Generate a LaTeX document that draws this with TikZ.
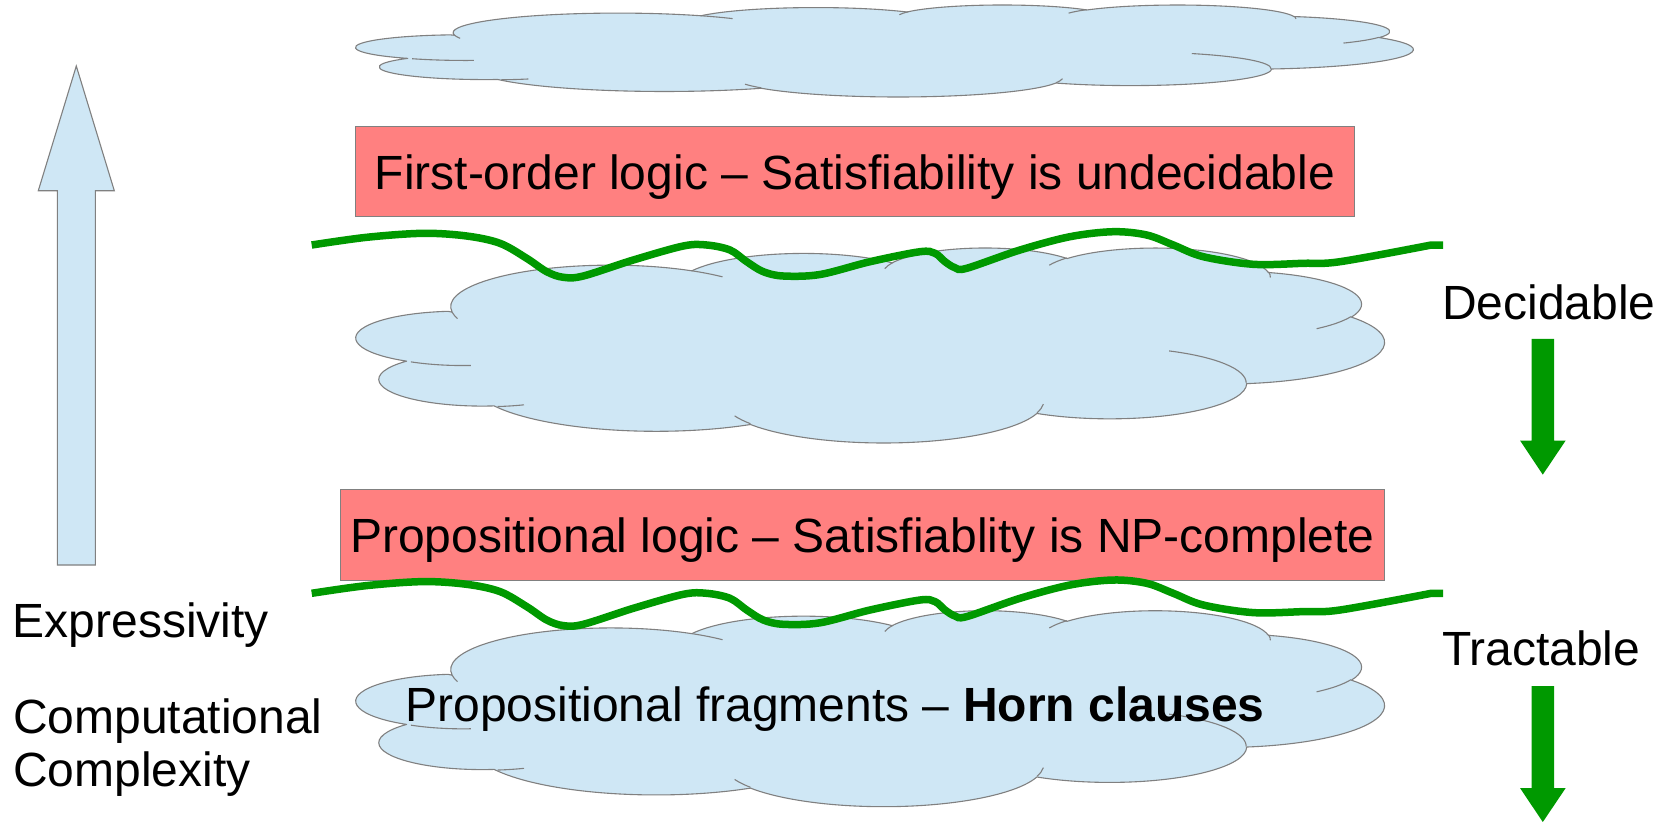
\documentclass[tikz,border=0pt]{standalone}
\usepackage{fontspec}
\setmainfont{Liberation Sans}
\definecolor{cloudfill}{RGB}{207,231,245}
\definecolor{edgegray}{RGB}{128,128,128}
\definecolor{boxred}{RGB}{255,128,128}
\definecolor{linegreen}{RGB}{0,153,0}

% OOXML-style elliptic arc: name, x radius, y radius, visual start angle, visual sweep
\newcommand\ooarcdef[5]{%
  \pgfmathsetmacro\ooTs{atan2((#2)*sin(#4),(#3)*cos(#4))}%
  \pgfmathsetmacro\ooTe{atan2((#2)*sin((#4)+(#5)),(#3)*cos((#4)+(#5)))}%
  \pgfmathsetmacro\ooD{(#5)>0 ? mod((\ooTe)-(\ooTs)+720,360) : -mod((\ooTs)-(\ooTe)+720,360)}%
  \expandafter\xdef\csname ooArc#1\endcsname{arc[start angle=\ooTs, delta angle=\ooD, x radius=#2, y radius=#3]}%
}
\newcommand\ooarc[1]{\csname ooArc#1\endcsname}

\ooarcdef{ma}{67.53}{91.90}{-190.4875}{123.7805}
\ooarcdef{mb}{53.33}{72.67}{-144.1024}{89.9452}
\ooarcdef{mc}{43.65}{59.45}{-145.8079}{99.7230}
\ooarcdef{md}{48.57}{65.95}{-130.9861}{117.2417}
\ooarcdef{me}{53.33}{72.73}{-78.7089}{109.0269}
\ooarcdef{mf}{67.75}{92.20}{-46.2673}{130.2690}
\ooarcdef{mg}{57.85}{78.67}{0.6250}{114.0333}
\ooarcdef{mh}{67.52}{92.15}{22.4516}{115.1726}
\ooarcdef{mi}{77.20}{105.43}{66.2426}{78.0346}
\ooarcdef{mj}{43.60}{59.18}{-274.9421}{146.7356}
\ooarcdef{mk}{43.45}{59.45}{-246.8285}{152.5189}
\ooarcdef{sa}{43.45}{59.45}{86.7420}{26.4295}
\ooarcdef{sb}{43.60}{59.18}{73.6105}{11.4475}
\ooarcdef{sc}{67.52}{92.15}{137.6242}{14.0811}
\ooarcdef{sd}{67.52}{92.15}{6.4533}{15.9984}
\ooarcdef{se}{57.85}{78.67}{-70.2924}{70.9174}
\ooarcdef{sf}{53.33}{72.73}{30.3180}{27.7515}
\ooarcdef{sg}{48.57}{65.95}{-13.7443}{14.8661}
\ooarcdef{sh}{48.57}{65.95}{-149.1815}{18.1928}
\ooarcdef{si}{43.65}{59.45}{-163.4943}{17.6874}
\ooarcdef{sj}{67.53}{91.90}{-66.7070}{12.3194}
\ooarcdef{sk}{67.53}{91.90}{157.6544}{11.8582}

\tikzset{
  cloudbody/.style={fill=cloudfill, draw=edgegray, line width=1.1pt, line join=round},
  cloudedge/.style={draw=edgegray, line width=1.1pt},
  redbox/.style={rectangle, fill=boxred, draw=edgegray, line width=1pt, inner sep=0pt, outer sep=0pt},
  bigtext/.style={font=\fontsize{48}{57}\selectfont, inner sep=0pt, outer sep=0pt},
  waveline/.style={draw=linegreen, line width=7.5pt},
  greenarrow/.style={fill=linegreen},
  bluearrow/.style={fill=cloudfill, draw=edgegray, line width=1.1pt},
}

% cloud: name, left, top, right, bottom (pixels)
\newcommand\drawcloud[5]{%
  \pgfmathsetmacro\cSx{((#4)-(#2))/433.9}%
  \pgfmathsetmacro\cSy{((#5)-(#3))/432.2}%
  \pgfmathsetmacro\cX{(#2)+1.68*\cSx}%
  \pgfmathsetmacro\cY{(#3)-1.43*\cSy}%
  \begin{scope}[shift={(\cX,\cY)}, xscale=\cSx, yscale=\cSy]
    \path[cloudbody] (39,143.7) \ooarc{ma} \ooarc{mb} \ooarc{mc} \ooarc{md}
      \ooarc{me} \ooarc{mf} \ooarc{mg} \ooarc{mh} \ooarc{mi} \ooarc{mj} \ooarc{mk} -- cycle;
    \draw[cloudedge] (46.93,261.77) \ooarc{sa} (69.28,348.99) \ooarc{sb}
      (164.78,390.90) \ooarc{sc} (288.27,347.51) \ooarc{sd}
      (341.29,229.54) \ooarc{se} (417.98,153.54) \ooarc{sf}
      (383.24,54.26) \ooarc{sg} (290.78,39.52) \ooarc{sh}
      (221.41,47.20) \ooarc{si} (140.00,51.92) \ooarc{sj}
      (41.27,157.89) \ooarc{sk};
    \coordinate (#1) at (216,216);
  \end{scope}}

\newcommand\drawwave[1]{%
  \begin{scope}[shift={(0,#1)}]
    \draw[waveline] plot[smooth, tension=0.55] coordinates {
      (311.7,245) (366.7,237.3) (423.3,233.3) (466.7,236) (500,243.3)
      (526.7,258.3) (546.7,271.7) (563.3,277.3) (583.3,276) (633.3,260)
      (683.3,246) (706.7,245) (730,250) (746.7,261.7) (763.3,271.7)
      (783.3,276) (820,274.5) (870,261.7) (920,251.7) (935,253.3)
      (945,261.7) (955,267.7) (966.7,268.3) (1020,250) (1070,236.7)
      (1113.3,231.7) (1146.7,235) (1173.3,245) (1203.3,256.7)
      (1253.3,264.3) (1303.3,263.3) (1340,261.7) (1431.3,245)}
      -- (1443,245);
  \end{scope}}

\begin{document}
\begin{tikzpicture}[x=1pt, y=1pt, yscale=-1]
  \fill[white] (0,0) rectangle (1658,822);
  \useasboundingbox (0,0) rectangle (1658,822);

  % left expressivity arrow
  \draw[bluearrow] (57.3,565) -- (57.3,190.7) -- (38.3,190.7) -- (76.3,66)
    -- (114.3,190.7) -- (95.3,190.7) -- (95.3,565) -- cycle;

  % clouds and boxes
  \drawcloud{cloudtop}{355.4}{5}{1413.5}{97}
  \node[redbox, minimum width=998.3pt, minimum height=90.4pt] (box1) at (854.85,171.5) {};
  \drawcloud{cloudmid}{355.7}{248}{1384.7}{443}
  \drawwave{0}
  \node[redbox, minimum width=1043.3pt, minimum height=90.7pt] (box2) at (862.35,534.65) {};
  \drawcloud{cloudbot}{355.7}{610.7}{1384.7}{806.7}
  \drawwave{348.3}

  % texts
  \node[bigtext, anchor=base] (t1) at (854.9,189.5) {First-order logic – Satisfiability is undecidable};
  \node[bigtext, anchor=base] (t2) at (862.4,552.7) {Propositional logic – Satisfiablity is NP-complete};
  \node[bigtext, anchor=base] (t3) at (835,721) {Propositional fragments – \textbf{Horn clauses}};
  \node[bigtext, anchor=base west] (expr) at (12.7,637.6) {Expressivity};
  \node[bigtext, anchor=base west] (comp1) at (13,733.3) {Computational};
  \node[bigtext, anchor=base west] (comp2) at (13,786.7) {Complexity};
  \node[bigtext, anchor=base west] (dec) at (1442,319) {Decidable};
  \node[bigtext, anchor=base west] (trac) at (1442,665) {Tractable};

  % green arrows
  \fill[greenarrow] (1531.7,338.8) -- (1554,338.8) -- (1554,440.5) -- (1565.7,440.5)
    -- (1542.8,474.6) -- (1520,440.5) -- (1531.7,440.5) -- cycle;
  \fill[greenarrow] (1531.7,686) -- (1554,686) -- (1554,788) -- (1565.7,788)
    -- (1542.8,822) -- (1520,788) -- (1531.7,788) -- cycle;
\end{tikzpicture}
\end{document}
